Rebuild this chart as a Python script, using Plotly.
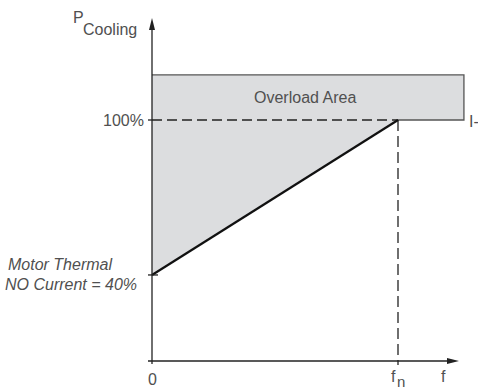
import plotly.graph_objects as go

# ---- data (schematic diagram, not to scale) ----
f_labels = ["0", "f"]          # frequency ticks (f_n drawn with subscript)
f_pos = [0.0, 1.0]             # 0 and nominal frequency f_n
p_labels = ["40%", "100%"]     # cooling levels
p_pos = [0.357, 1.0]           # schematic heights of the cooling levels
overload_top = 1.187
overload_right = 1.268
axis_x_end = 1.248
axis_y_end = 1.423

# pixel -> data helpers for the layout of the page
W, H = 478, 392
X0, XS = 152, 246
Y0, YS = 361, 241
def px(x): return (x - X0) / XS
def py(y): return (Y0 - y) / YS

TXT = "#505050"
FONT = "Liberation Sans, Arial, sans-serif"

fig = go.Figure()

# overload area (grey polygon)
poly_x = [f_pos[0], overload_right, overload_right, f_pos[1], f_pos[0], f_pos[0]]
poly_y = [overload_top, overload_top, p_pos[1], p_pos[1], p_pos[0], overload_top]
fig.add_trace(go.Scatter(x=poly_x, y=poly_y, mode="lines", fill="toself",
                         fillcolor="#dcdddf", line=dict(width=0), hoverinfo="skip"))
# outline of the overload rectangle (top, right, bottom-right)
fig.add_trace(go.Scatter(x=[f_pos[0], overload_right, overload_right, f_pos[1]],
                         y=[overload_top, overload_top, p_pos[1], p_pos[1]],
                         mode="lines", line=dict(color="#555555", width=1.3), hoverinfo="skip"))
# dashed 100% line and vertical fn line
fig.add_trace(go.Scatter(x=[f_pos[0], f_pos[1]], y=[p_pos[1], p_pos[1]], mode="lines",
                         line=dict(color="#222222", width=1.3, dash="10px,5px"), hoverinfo="skip"))
fig.add_trace(go.Scatter(x=[f_pos[1], f_pos[1]], y=[p_pos[1], 0], mode="lines",
                         line=dict(color="#222222", width=1.3, dash="11px,5px"), hoverinfo="skip"))
# cooling line
fig.add_trace(go.Scatter(x=f_pos, y=p_pos, mode="lines",
                         line=dict(color="#111111", width=2.2), hoverinfo="skip"))

# axes
axc = "#222222"
fig.add_trace(go.Scatter(x=[px(148), axis_x_end - 10 / XS], y=[0, 0], mode="lines",
                         line=dict(color=axc, width=1.3), hoverinfo="skip"))
fig.add_trace(go.Scatter(x=[0, 0], y=[py(364), axis_y_end - 10 / YS], mode="lines",
                         line=dict(color=axc, width=1.3), hoverinfo="skip"))
shapes = []
# arrowheads
shapes.append(dict(type="path", xref="x", yref="y", fillcolor=axc, line=dict(width=0),
                   path=f"M {axis_x_end} 0 L {axis_x_end - 12/XS} {3/YS} L {axis_x_end - 12/XS} {-3/YS} Z"))
shapes.append(dict(type="path", xref="x", yref="y", fillcolor=axc, line=dict(width=0),
                   path=f"M 0 {axis_y_end} L {-3/XS} {axis_y_end - 12/YS} L {3/XS} {axis_y_end - 12/YS} Z"))
# ticks
shapes.append(dict(type="line", xref="x", yref="y", x0=-4/XS, x1=6/XS, y0=p_pos[0], y1=p_pos[0],
                   line=dict(color=axc, width=1.3)))
shapes.append(dict(type="line", xref="x", yref="y", x0=-4/XS, x1=0, y0=p_pos[1], y1=p_pos[1],
                   line=dict(color=axc, width=1.3)))
shapes.append(dict(type="line", xref="x", yref="y", x0=f_pos[1], x1=f_pos[1], y0=0, y1=-4/YS,
                   line=dict(color=axc, width=1.3)))

ann = []
def text(x, y, t, xa="center", size=16, italic=False):
    ann.append(dict(x=x, y=y, xref="x", yref="y", text=t, showarrow=False, xanchor=xa,
                    yanchor="middle", font=dict(family=FONT, size=size, color=TXT,
                                                style="italic" if italic else "normal")))

text(px(78), py(17), "P")
text(px(110), py(29), "Cooling")
text(px(146), p_pos[1], p_labels[1], xa="right")
text(px(305), py(97), "Overload Area")
text(px(467), py(121), "I-", xa="left")
text(px(114), py(264), "Motor Thermal", xa="right", italic=True)
text(px(139), p_pos[0] - 10/YS, "NO Current = " + p_labels[0], xa="right", italic=True)
text(f_pos[0], py(379), f_labels[0])
text(f_pos[1] - 5/XS, py(376), f_labels[1])
text(f_pos[1] + 3/XS, py(381), "n", size=15)
text(px(443), py(376), "f")

fig.update_layout(
    width=W, height=H, margin=dict(l=0, r=0, t=0, b=0),
    paper_bgcolor="white", plot_bgcolor="white", showlegend=False,
    xaxis=dict(range=[px(0), px(W)], visible=False, fixedrange=True),
    yaxis=dict(range=[py(H), py(0)], visible=False, fixedrange=True),
    shapes=shapes, annotations=ann,
)
fig.write_html("out.html", config={"displayModeBar": False},
               post_script="document.body.style.margin='0';document.body.style.overflow='hidden';")
